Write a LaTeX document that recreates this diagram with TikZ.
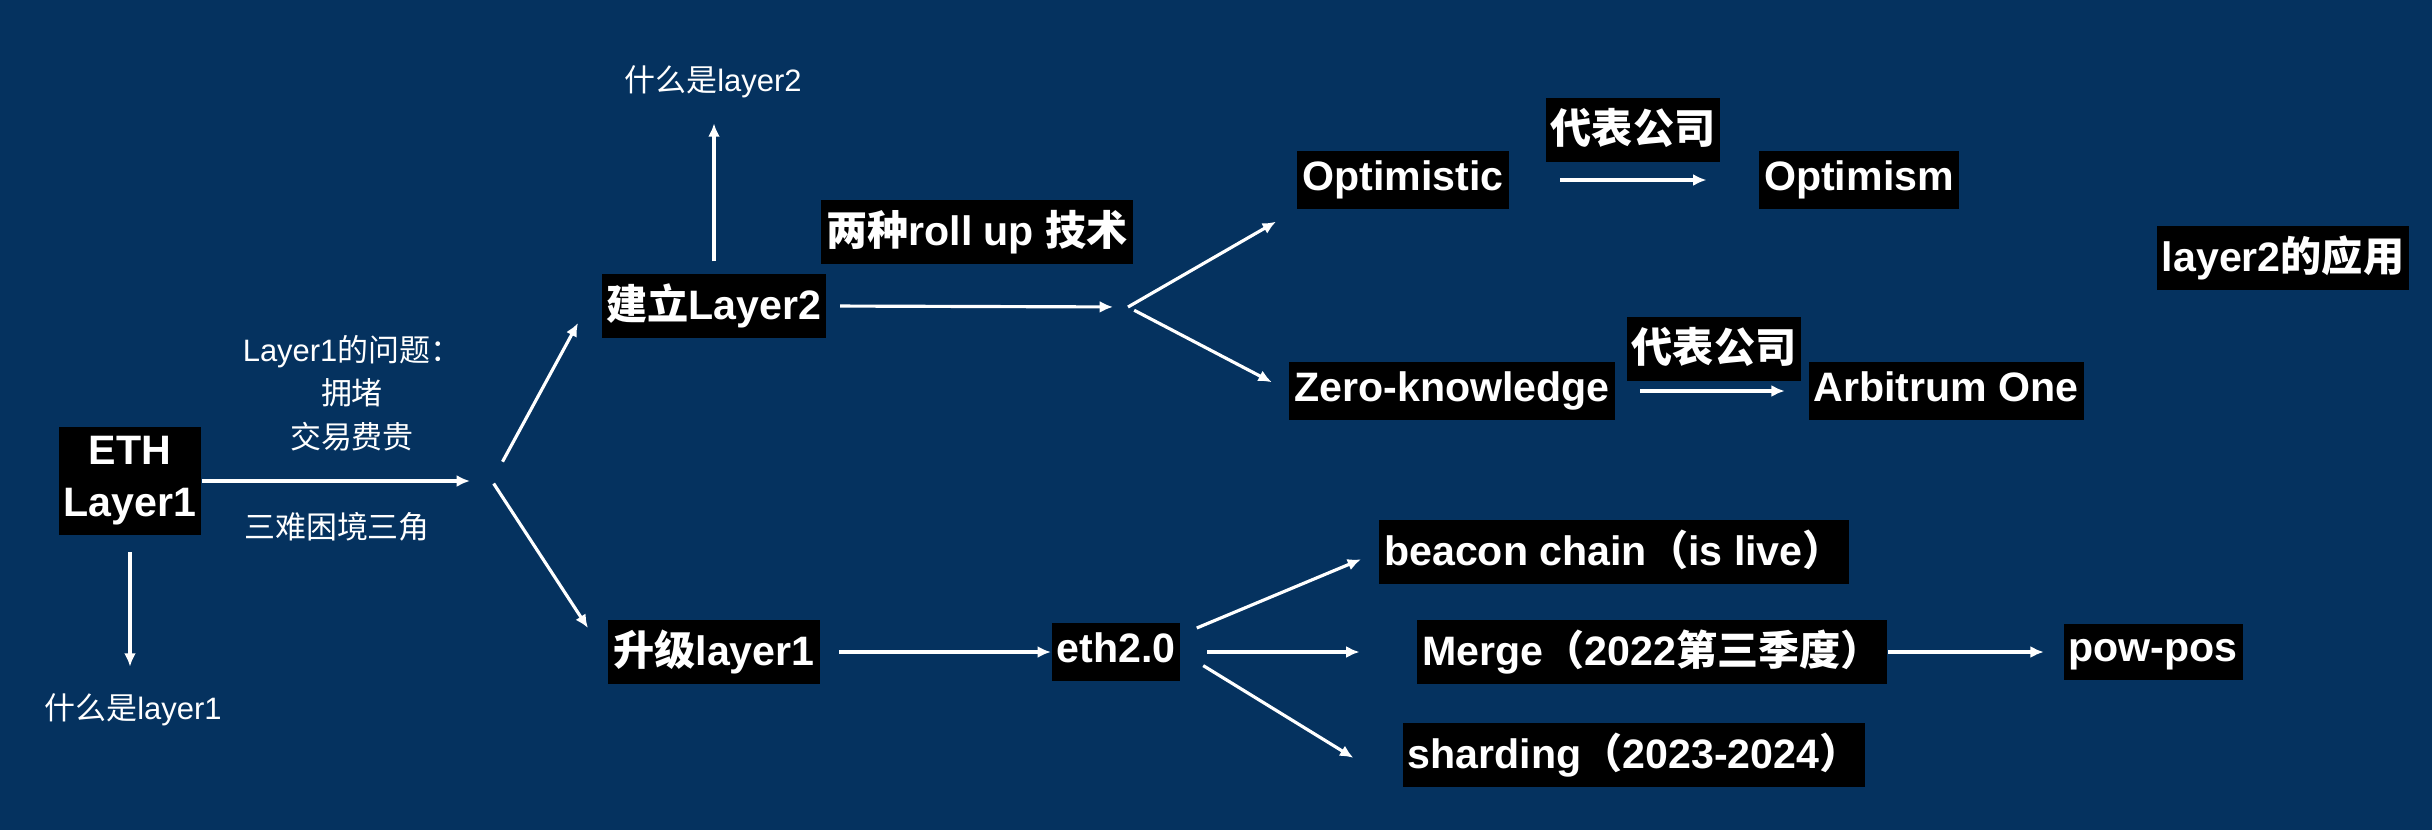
\documentclass[tikz,border=0pt]{standalone}
\usepackage{fontspec}
\setmainfont{Liberation Sans}
\newfontfamily\zh{Noto Sans CJK SC}
\usepackage{tikz}
\usetikzlibrary{arrows.meta}
\definecolor{bgNavy}{RGB}{5, 50, 95}

\begin{document}
\begin{tikzpicture}[x=0.01cm, y=-0.01cm,
    darkBox/.style={fill=black, text=white, align=center, inner xsep=1.4pt, inner ysep=2.8pt,
      font=\bfseries\fontsize{11.7}{14.8}\selectfont, execute at begin node={\vphantom{Ay}}},
    noteText/.style={text=white, align=center, inner sep=1pt,
      font=\fontsize{8.8}{12.4}\selectfont},
    flowArrow/.style={draw=white, line width=0.9pt, -{Latex[length=3.8pt,width=3.4pt]}}]
  \useasboundingbox (0,0) rectangle (2432,830);
  \fill[bgNavy] (0,0) rectangle (2432,830);

  % layer 1
  \node[darkBox] (eth) at (130,481) {ETH\\Layer1};
  \node[noteText] (q1) at (133,710) {{\zh 什么是}layer1};
  \node[noteText] (probs) at (352,393) {Layer1{\zh 的问题：}\\{\zh 拥堵}\\{\zh 交易费贵}};
  \node[noteText] (tri) at (337,527) {\zh 三难困境三角};

  % layer 2 branch
  \node[darkBox] (layer2) at (714,306) {{\zh 建立}Layer2};
  \node[noteText] (q2) at (713,82) {{\zh 什么是}layer2};
  \node[darkBox] (rollup) at (977,232) {{\zh 两种}roll up {\zh 技术}};
  \node[darkBox] (opt) at (1403,180) {Optimistic};
  \node[darkBox] (rep1) at (1633,130) {\zh 代表公司};
  \node[darkBox] (optimism) at (1859,180) {Optimism};
  \node[darkBox] (zk) at (1452,391) {Zero-knowledge};
  \node[darkBox] (rep2) at (1714,349) {\zh 代表公司};
  \node[darkBox] (arb) at (1946,391) {Arbitrum One};
  \node[darkBox] (apps) at (2283,258) {layer2{\zh 的应用}};

  % upgrade branch
  \node[darkBox] (up1) at (714,652) {{\zh 升级}layer1};
  \node[darkBox] (eth2) at (1116,652) {eth2.0};
  \node[darkBox] (beacon) at (1614,552) {beacon chain{\zh （}is live{\zh ）}};
  \node[darkBox] (merge) at (1652,652) {Merge{\zh （}2022{\zh 第三季度）}};
  \node[darkBox] (powpos) at (2153,652) {pow-pos};
  \node[darkBox] (shard) at (1634,755) {sharding{\zh （}2023-2024{\zh ）}};

  % split points
  \coordinate (fork1) at (492,481);
  \coordinate (l2tip) at (578,323);
  \coordinate (u1tip) at (588,628);
  \coordinate (fork2) at (1128,307);

  \draw[flowArrow, shorten >=0.22cm] (eth.east) -- (fork1);
  \draw[flowArrow, shorten <=0.22cm] (fork1) -- (l2tip);
  \draw[flowArrow, shorten <=0.03cm] (fork1) -- (u1tip);
  \draw[flowArrow, shorten <=0.16cm, shorten >=0.23cm] (eth.south) -- (eth.south |- q1.north);

  \draw[flowArrow, shorten <=0.12cm, shorten >=0.21cm] (layer2.north) -- (layer2.north |- q2.south);
  \draw[flowArrow, shorten <=0.13cm, shorten >=0.15cm] (layer2.east) -- (fork2);
  \draw[flowArrow, shorten >=0.24cm] (fork2) -- (opt.south west);
  \draw[flowArrow, shorten <=0.07cm, shorten >=0.19cm] (fork2) -- (zk.west);
  \draw[flowArrow, shorten <=0.51cm, shorten >=0.52cm] (opt) -- (optimism);
  \draw[flowArrow, shorten <=0.25cm, shorten >=0.23cm] (zk) -- (arb);

  \draw[flowArrow, shorten <=0.19cm] (up1) -- (eth2);
  \draw[flowArrow, shorten <=0.17cm, shorten >=0.19cm] (eth2.15) -- (beacon.west);
  \draw[flowArrow, shorten <=0.26cm, shorten >=0.57cm] (eth2.east) -- (merge.west);
  \draw[flowArrow, shorten <=0.26cm, shorten >=0.57cm] (eth2.east) -- (shard.south west);
  \draw[flowArrow, shorten <=0.01cm, shorten >=0.19cm] (merge) -- (powpos);
\end{tikzpicture}
\end{document}
